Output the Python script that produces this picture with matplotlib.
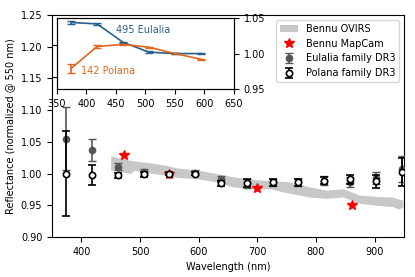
import matplotlib
matplotlib.use("Agg")
import matplotlib.pyplot as plt
import numpy as np

plt.rcParams.update({"font.size": 7})

# Gaia DR3 wavelengths (nm)
wl = [374, 418, 462, 506, 550, 594, 638, 682, 726, 770, 814, 858, 902, 946]

eul_fam = [1.055, 1.037, 1.011, 1.003, 1.000, 1.001, 0.991, 0.985, 0.986, 0.986, 0.989, 0.987, 0.993, 1.007]
eul_fam_err = [0.050, 0.017, 0.005, 0.005, 0.003, 0.004, 0.005, 0.007, 0.006, 0.006, 0.007, 0.008, 0.009, 0.020]

pol_fam = [1.000, 0.998, 0.997, 0.999, 1.000, 1.000, 0.985, 0.985, 0.986, 0.986, 0.989, 0.991, 0.988, 1.002]
pol_fam_err = [0.067, 0.016, 0.004, 0.004, 0.003, 0.003, 0.004, 0.006, 0.005, 0.005, 0.006, 0.007, 0.010, 0.022]

# Bennu OVIRS envelope
ovirs_wl = [450, 483, 490, 517, 545, 562, 596, 630, 659, 687, 721, 755, 789, 818, 846, 875, 903, 931, 940, 948]
ovirs_hi = [1.028, 1.021, 1.020, 1.017, 1.013, 1.009, 1.006, 1.000, 0.995, 0.991, 0.989, 0.987, 0.979, 0.974, 0.976, 0.966, 0.964, 0.963, 0.960, 0.958]
ovirs_lo = [1.006, 1.000, 1.005, 1.001, 0.997, 0.994, 0.992, 0.987, 0.979, 0.976, 0.976, 0.969, 0.963, 0.961, 0.963, 0.953, 0.950, 0.948, 0.944, 0.947]

# Bennu MapCam
mc_wl = [473, 550, 699, 862]
mc_refl = [1.029, 1.000, 0.978, 0.951]

# inset: individual asteroids
ins_wl = [374, 418, 462, 506, 550, 594]
eulalia = [1.044, 1.042, 1.016, 1.002, 1.000, 1.000]
eulalia_err = [0.002, 0.001, 0.001, 0.001, 0.001, 0.001]
polana = [0.979, 1.010, 1.013, 1.009, 1.000, 0.992]
polana_err = [0.006, 0.002, 0.001, 0.001, 0.001, 0.001]

fig = plt.figure(figsize=(4.15, 2.77), dpi=100)
ax = fig.add_axes([0.1253, 0.1444, 0.8482, 0.8014])

ax.fill_between(ovirs_wl, ovirs_lo, ovirs_hi, color="#c8c8c8", lw=0, label="Bennu OVIRS")
ax.plot(mc_wl, mc_refl, "*", color="red", ms=7, label="Bennu MapCam", zorder=3)
ax.errorbar(wl, eul_fam, yerr=eul_fam_err, fmt="o", color="#555555", ms=4.5,
            capsize=3, elinewidth=1.2, label="Eulalia family DR3", zorder=4)
ax.errorbar(wl, pol_fam, yerr=pol_fam_err, fmt="o", mfc="white", mec="black",
            ecolor="black", ms=4.5, mew=1.2, capsize=3, elinewidth=1.2,
            label="Polana family DR3", zorder=5)

ax.set_xlim(350, 950)
ax.set_ylim(0.90, 1.25)
ax.set_xticks([400, 500, 600, 700, 800, 900])
ax.set_yticks(np.arange(0.90, 1.251, 0.05))
ax.set_xlabel("Wavelength (nm)")
ax.set_ylabel("Reflectance (normalized @ 550 nm)")
ax.legend(loc="upper right", fontsize=7, borderaxespad=0.5, handlelength=1.8)

# inset
ax_l = ax.inset_axes([0.014, 0.667, 0.503, 0.3185])
ax_l.set_ylim(1.131, 1.242)
ax_l.set_yticks([1.15, 1.20])
ax_l.tick_params(labelleft=False)
ax_in = ax_l.twinx()
ax_in.errorbar(ins_wl, eulalia, yerr=eulalia_err, color="#2a5f8a", lw=1.2, capsize=3)
ax_in.errorbar(ins_wl, polana, yerr=polana_err, color="#e0661c", lw=1.2, capsize=3)
ax_in.text(450, 1.034, "495 Eulalia", color="#2a5f8a", va="center")
ax_in.text(391, 0.9755, "142 Polana", color="#e0661c", va="center")
ax_l.set_xlim(350, 650)
ax_l.set_xticks(np.arange(350, 651, 50))
ax_in.set_ylim(0.95, 1.05)
ax_in.set_yticks([0.95, 1.00, 1.05])

fig.savefig("out.png", dpi=100)
